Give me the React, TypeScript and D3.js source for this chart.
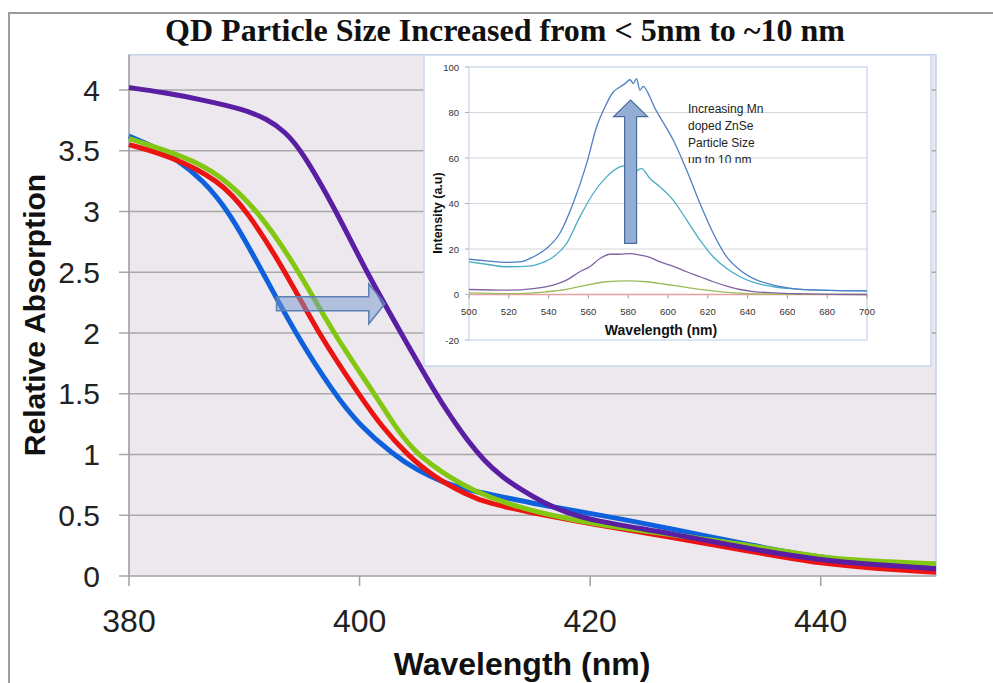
import React from "react";
import * as d3 from "d3";

// main absorption curves: [wavelength nm, relative absorption]
const blueAbs: [number, number][] = [
  [380, 3.62], [382, 3.54], [384, 3.44], [386.4, 3.26], [388.7, 3.0], [391.6, 2.5],
  [394.4, 2.0], [397.8, 1.5], [400, 1.24], [402.9, 1.0], [405, 0.87], [407.2, 0.77],
  [409.7, 0.7], [413, 0.64], [416, 0.58], [421, 0.5], [427, 0.39], [434, 0.25],
  [440, 0.15], [445, 0.1], [450, 0.08],
];
const redAbs: [number, number][] = [
  [380, 3.55], [383.5, 3.46], [387.8, 3.26], [390.3, 3.0], [393.6, 2.5], [396.4, 2.0],
  [399.9, 1.5], [402, 1.22], [404.1, 1.0], [406.5, 0.81], [409.3, 0.67], [411, 0.6],
  [416, 0.5], [420, 0.43], [427, 0.32], [434, 0.2], [440, 0.1], [445, 0.06],
  [450, 0.03],
];
const greenAbs: [number, number][] = [
  [380, 3.6], [384.9, 3.45], [387.8, 3.31], [391.3, 3.0], [394.8, 2.5], [397.7, 2.0],
  [401.3, 1.5], [403, 1.24], [404.9, 1.0], [408, 0.8], [410, 0.7], [412.5, 0.6],
  [418, 0.46], [427, 0.34], [434, 0.25], [440, 0.15], [445, 0.12], [450, 0.1],
];
const purpleAbs: [number, number][] = [
  [380, 4.02], [383, 3.98], [386.3, 3.92], [390, 3.84], [392, 3.76], [393.5, 3.66],
  [395, 3.5], [398.0, 3.0], [400.6, 2.5], [403.6, 2.0], [406.6, 1.5], [408, 1.3],
  [409.4, 1.11], [410.8, 0.95], [412.3, 0.82], [414, 0.71], [416, 0.6], [418, 0.52],
  [420, 0.46], [427, 0.35], [434, 0.22], [440, 0.13], [445, 0.09], [450, 0.06],
];

// inset emission spectra: [wavelength nm, intensity a.u]
const emDarkBlue: [number, number][] = [
  [500, 15.5], [508.7, 14.8], [518.8, 14.1], [525.5, 14.3], [532.2, 16.5], [538.9, 20.2],
  [545.6, 26.8], [552.3, 40], [559.1, 57.5], [564.1, 73.6], [568.3, 82.4], [572.5, 89],
  [575.8, 91.2], [578.4, 92.7], [580.9, 94.4], [582.6, 92.7], [584.2, 94.9], [585.9, 89.8],
  [587.6, 91.5], [590.9, 86.8], [593.5, 81.7], [596, 78], [602.7, 67.8], [609.4, 54.6],
  [616.1, 40], [622.8, 26.8], [629.5, 16.5], [636.2, 10.7], [643, 7], [653, 4.1],
  [663, 2.6], [676.5, 1.9], [700, 1.6],
];
const emLightBlue: [number, number][] = [
  [500, 14.3], [508.7, 13.3], [518.8, 12.2], [528.9, 12.4], [535.6, 13.6], [542.3, 16.5],
  [549, 22.4], [555.7, 34.1], [562.4, 44.4], [569.1, 51.7], [575.8, 56.1], [579.2, 56.8],
  [583.4, 54.3], [586.7, 55.3], [590.9, 51], [596, 47.3], [602.7, 41.4], [609.4, 32.7],
  [616.1, 23.9], [622.8, 16.5], [629.5, 11.4], [636.2, 7.8], [643, 5.3], [653, 3.4],
  [663, 2.5], [676.5, 1.9], [700, 1.6],
];
const emPurple: [number, number][] = [
  [500, 2.2], [518.8, 1.9], [532.2, 2.6], [542.3, 4.1], [549, 6.3], [555.7, 10],
  [560.7, 12.2], [565.8, 15.8], [570.8, 17.7], [575.8, 17.7], [580.9, 18], [585.9, 17.3],
  [590.9, 16.3], [596, 14.3], [602.7, 12.4], [609.4, 10], [616.1, 7.8], [622.8, 5.6],
  [629.5, 3.7], [636.2, 2.2], [643, 1.3], [653, 0.7], [668, 0.3], [700, 0],
];
const emGreen: [number, number][] = [
  [500, 0.7], [525.5, 0.4], [538.9, 1.2], [549, 2.3], [559.1, 4.1], [569.1, 5.6],
  [579.2, 6], [589.3, 5.6], [599.3, 4.4], [609.4, 3.1], [619.5, 1.9], [632.9, 0.7],
  [651.3, 0.15], [700, 0],
];
const emRed: [number, number][] = [[500, 0], [600, 0], [700, 0]];

const mainXTicks = [380, 400, 420, 440];
const mainYTicks = [0, 0.5, 1, 1.5, 2, 2.5, 3, 3.5, 4];
const insetXTicks = [500, 520, 540, 560, 580, 600, 620, 640, 660, 680, 700];
const insetYTicks = [-20, 0, 20, 40, 60, 80, 100];
const insetNote = ["Increasing Mn", "doped ZnSe", "Particle Size", "up to 10 nm"];

const W = 993;
const H = 683;

export default function App() {
  const x = d3.scaleLinear().domain([380, 450]).range([129, 936]);
  const y = d3.scaleLinear().domain([0, 4]).range([576, 90]);
  const plotTop = y(4.29);

  const ix = d3.scaleLinear().domain([500, 700]).range([469, 867]);
  const iy = d3.scaleLinear().domain([-20, 100]).range([340, 67]);

  const mainLine = d3
    .line<[number, number]>()
    .x((d) => x(d[0]))
    .y((d) => y(d[1]))
    .curve(d3.curveBasis);
  const insetLine = d3
    .line<[number, number]>()
    .x((d) => ix(d[0]))
    .y((d) => iy(d[1]))
    .curve(d3.curveMonotoneX);

  const mainSeries = [
    { data: blueAbs, color: "#0f60dc" },
    { data: redAbs, color: "#ec1313" },
    { data: greenAbs, color: "#84c712" },
    { data: purpleAbs, color: "#5a1ea2" },
  ];
  const insetSeries = [
    { data: emRed, color: "#e8a0a0" },
    { data: emGreen, color: "#9bbb59" },
    { data: emPurple, color: "#8064a2" },
    { data: emLightBlue, color: "#4bacc6" },
    { data: emDarkBlue, color: "#4f7fc4" },
  ];

  // horizontal shift arrow (main chart), in data units
  const ax0 = x(392.8), ax1 = x(402.2), axHead = x(400.8);
  const ay = y(2.24);
  const mainArrow = `M${ax0},${ay - 7} L${axHead},${ay - 7} L${axHead},${ay - 20} L${ax1},${ay} L${axHead},${ay + 20} L${axHead},${ay + 7} L${ax0},${ay + 7} Z`;

  // vertical arrow (inset)
  const vx = ix(581.2);
  const vy0 = iy(22.5), vy1 = iy(85.5), vHead = iy(78.2);
  const insetArrow = `M${vx - 6},${vy0} L${vx - 6},${vHead} L${vx - 17},${vHead} L${vx},${vy1} L${vx + 17},${vHead} L${vx + 6},${vHead} L${vx + 6},${vy0} Z`;

  return (
    <svg
      width={W}
      height={H}
      style={{ position: "absolute", left: 0, top: 0, background: "#fff" }}
      fontFamily="Arial, 'Liberation Sans', sans-serif"
    >
      {/* outer frame */}
      <path d={`M9,${H} L9,13 L${W},13`} fill="none" stroke="#9c9c9c" strokeWidth={2} />

      {/* title */}
      <text
        x={505}
        y={41}
        textAnchor="middle"
        fontFamily="'Liberation Serif', 'Times New Roman', serif"
        fontWeight="bold"
        fontSize={32}
        fill="#111"
      >
        QD Particle Size Increased from &lt; 5nm to ~10 nm
      </text>

      {/* main plot area */}
      <rect x={x(380)} y={plotTop} width={x(450) - x(380)} height={y(0) - plotTop} fill="#ece8ed" stroke="#c3d3e8" strokeWidth={1.5} />
      {mainYTicks.map((t) => (
        <g key={t}>
          <line x1={x(380) - 10} x2={x(450)} y1={y(t)} y2={y(t)} stroke="#a9a9a9" strokeWidth={1.5} />
          <text x={100} y={y(t) + 10.5} textAnchor="end" fontSize={30} fill="#222">
            {t}
          </text>
        </g>
      ))}
      <line x1={x(380)} x2={x(380)} y1={plotTop} y2={y(0)} stroke="#a0a0a0" strokeWidth={1.5} />
      {mainXTicks.map((t) => (
        <g key={t}>
          <line x1={x(t)} x2={x(t)} y1={y(0)} y2={y(0) + 10} stroke="#a0a0a0" strokeWidth={1.5} />
          <text x={x(t)} y={632} textAnchor="middle" fontSize={32} fill="#222">
            {t}
          </text>
        </g>
      ))}
      <text
        transform={`translate(45, 315) rotate(-90)`}
        textAnchor="middle"
        fontWeight="bold"
        fontSize={30}
        fill="#111"
      >
        Relative Absorption
      </text>
      <text x={522} y={675} textAnchor="middle" fontWeight="bold" fontSize={32} fill="#111">
        Wavelength (nm)
      </text>

      {mainSeries.map((s, i) => (
        <path key={i} d={mainLine(s.data) || ""} fill="none" stroke={s.color} strokeWidth={5} strokeLinejoin="round" />
      ))}

      <path d={mainArrow} fill="rgba(118,152,204,0.5)" stroke="#5b7fb4" strokeWidth={1.5} />

      {/* inset */}
      <rect x={424} y={55} width={507} height={311} fill="#fff" stroke="#c9d8ec" strokeWidth={1.5} />
      {insetYTicks.map((t) => (
        <g key={t}>
          {t > -20 && t < 100 && (
            <line x1={ix(500)} x2={ix(700)} y1={iy(t)} y2={iy(t)} stroke={t === 0 ? "#9a9a9a" : "#d6d6d6"} strokeWidth={1} />
          )}
          <line x1={ix(500) - 4} x2={ix(500)} y1={iy(t)} y2={iy(t)} stroke="#b0b0b0" />
          <text x={459} y={iy(t) + 3.5} textAnchor="end" fontSize={9.5} fill="#333">
            {t}
          </text>
        </g>
      ))}
      <rect x={ix(500)} y={iy(100)} width={ix(700) - ix(500)} height={iy(-20) - iy(100)} fill="none" stroke="#b9cde5" strokeWidth={1} />
      {insetXTicks.map((t) => (
        <g key={t}>
          <line x1={ix(t)} x2={ix(t)} y1={iy(0)} y2={iy(0) + 4} stroke="#9a9a9a" />
          <text x={ix(t)} y={315} textAnchor="middle" fontSize={9.5} fill="#333">
            {t}
          </text>
        </g>
      ))}
      {insetSeries.map((s, i) => (
        <path key={i} d={insetLine(s.data) || ""} fill="none" stroke={s.color} strokeWidth={1.3} />
      ))}
      <path d={insetArrow} fill="#93aed5" stroke="#4a6b9e" strokeWidth={1.2} />

      <defs>
        <clipPath id="noteClip">
          <rect x={680} y={95} width={140} height={68} />
        </clipPath>
      </defs>
      <g clipPath="url(#noteClip)">
        {insetNote.map((l, i) => (
          <text key={i} x={688} y={113 + i * 17} fontSize={12} fill="#222">
            {l}
          </text>
        ))}
      </g>

      <text
        transform={`translate(442, 213) rotate(-90)`}
        textAnchor="middle"
        fontWeight="bold"
        fontSize={12.5}
        fill="#111"
      >
        Intensity (a.u)
      </text>
      <text x={661} y={335} textAnchor="middle" fontWeight="bold" fontSize={14} fill="#111">
        Wavelength (nm)
      </text>
    </svg>
  );
}
